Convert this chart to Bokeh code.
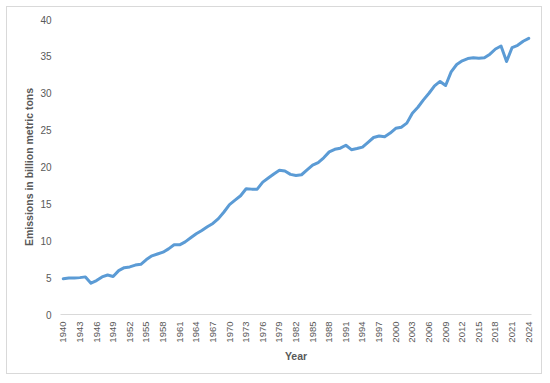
from bokeh.plotting import figure
from bokeh.models import FixedTicker, Range1d
from bokeh.embed import file_html
from bokeh.resources import INLINE
import math

years = [1940, 1941, 1942, 1943, 1944, 1945, 1946, 1947, 1948, 1949,
         1950, 1951, 1952, 1953, 1954, 1955, 1956, 1957, 1958, 1959,
         1960, 1961, 1962, 1963, 1964, 1965, 1966, 1967, 1968, 1969,
         1970, 1971, 1972, 1973, 1974, 1975, 1976, 1977, 1978, 1979,
         1980, 1981, 1982, 1983, 1984, 1985, 1986, 1987, 1988, 1989,
         1990, 1991, 1992, 1993, 1994, 1995, 1996, 1997, 1998, 1999,
         2000, 2001, 2002, 2003, 2004, 2005, 2006, 2007, 2008, 2009,
         2010, 2011, 2012, 2013, 2014, 2015, 2016, 2017, 2018, 2019,
         2020, 2021, 2022, 2023, 2024]

emissions = [4.85, 4.95, 4.95, 5.0, 5.1, 4.25, 4.6, 5.1, 5.35, 5.15,
             5.95, 6.35, 6.45, 6.7, 6.8, 7.45, 7.95, 8.2, 8.45, 8.9,
             9.45, 9.45, 9.85, 10.4, 10.95, 11.4, 11.9, 12.35, 13.0, 13.9,
             14.9, 15.5, 16.1, 17.05, 17.0, 17.0, 17.95, 18.5, 19.05, 19.55,
             19.45, 19.0, 18.85, 18.95, 19.6, 20.25, 20.6, 21.25, 22.05, 22.4,
             22.55, 22.95, 22.35, 22.5, 22.7, 23.35, 24.0, 24.2, 24.1, 24.6,
             25.25, 25.4, 25.95, 27.3, 28.1, 29.1, 30.0, 31.0, 31.6, 31.05,
             32.9, 33.9, 34.4, 34.7, 34.8, 34.75, 34.8, 35.3, 36.0, 36.4,
             34.3, 36.2, 36.5, 37.05, 37.45]

x_tick_years = [1940, 1943, 1946, 1949, 1952, 1955, 1958, 1961, 1964, 1967,
                1970, 1973, 1976, 1979, 1982, 1985, 1988, 1991, 1994, 1997,
                2000, 2003, 2006, 2009, 2012, 2015, 2018, 2021, 2024]
y_ticks = [0, 5, 10, 15, 20, 25, 30, 35, 40]

FONT = "Liberation Sans"
TXT = "#595959"

# canvas placed inside a 1px CSS border whose outer edge sits at (6, 6)
W, H = 536, 368
p = figure(width=W, height=H, output_backend="svg", toolbar_location=None,
           x_range=Range1d(1939.5, 2024.5), y_range=Range1d(0, 40),
           min_border_left=53, min_border_right=12, min_border_top=12,
           min_border_bottom=61)
p.styles = {"border": "1px solid #d9d9d9", "margin-left": "6px",
            "margin-top": "6px"}
p.outline_line_color = None
p.background_fill_color = "white"
p.border_fill_color = "white"
p.xgrid.visible = False
p.ygrid.visible = False

p.line(years, emissions, line_color="#5B9BD5", line_width=3,
       line_join="round", line_cap="round")

# x axis
xa = p.xaxis[0]
xa.ticker = FixedTicker(ticks=x_tick_years)
xa.major_label_orientation = math.pi / 2
xa.major_tick_line_color = None
xa.minor_tick_line_color = None
xa.major_tick_out = 0
xa.major_tick_in = 0
xa.minor_tick_out = 0
xa.axis_line_color = "#d9d9d9"
xa.axis_line_width = 1
xa.major_label_text_font = FONT
xa.major_label_text_font_size = "9.5px"
xa.major_label_text_color = TXT
xa.major_label_standoff = 7
xa.axis_label = "Year"
xa.axis_label_text_font = FONT
xa.axis_label_text_font_size = "10.5px"
xa.axis_label_text_font_style = "bold"
xa.axis_label_text_color = TXT
xa.axis_label_standoff = 4

# y axis
ya = p.yaxis[0]
ya.ticker = FixedTicker(ticks=y_ticks)
ya.major_tick_line_color = None
ya.minor_tick_line_color = None
ya.major_tick_out = 0
ya.major_tick_in = 0
ya.minor_tick_out = 0
ya.axis_line_color = None
ya.major_label_text_font = FONT
ya.major_label_text_font_size = "10px"
ya.major_label_text_color = TXT
ya.major_label_standoff = 9
ya.axis_label = "Emissions in billion metric tons"
ya.axis_label_text_font = FONT
ya.axis_label_text_font_size = "10.5px"
ya.axis_label_text_font_style = "bold"
ya.axis_label_text_color = TXT
ya.axis_label_standoff = 2

open("out.html", "w").write(file_html(p, INLINE))
